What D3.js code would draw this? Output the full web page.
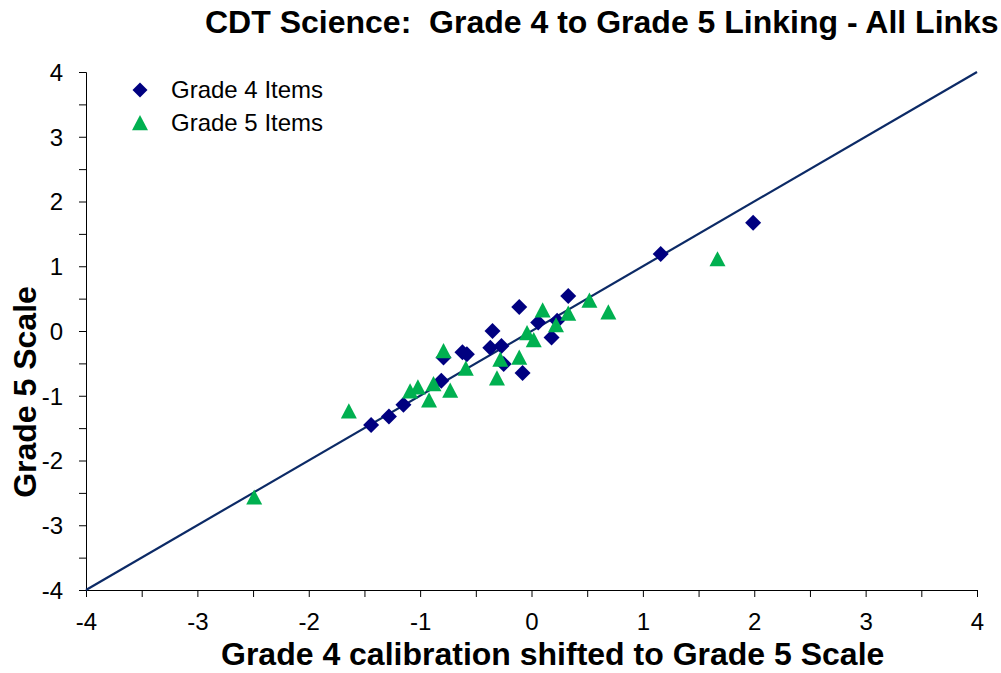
<!DOCTYPE html>
<html>
<head>
<meta charset="utf-8">
<script src="https://cdn.jsdelivr.net/npm/d3@7"></script>
<style>
    body { margin: 0; background: #fff; }
    text { font-family: Arial, "Liberation Sans", sans-serif; fill: #000; }
</style>
</head>
<body>
<svg id="chart"></svg>
<script>
// Item calibrations
const grade4X = [0.33, -0.11, 0.06, 0.23, 0.18, -0.35, -0.37, -0.27, -0.25, -0.08, -0.62, -0.58, -0.79, -0.81, -1.15, -1.28, -1.44, 1.16, 1.99];
const grade4Y = [0.54, 0.37, 0.13, 0.16, -0.10, 0.00, -0.26, -0.23, -0.51, -0.65, -0.33, -0.36, -0.41, -0.77, -1.14, -1.32, -1.45, 1.19, 1.67];
const grade5X = [0.52, 0.69, 0.10, 0.33, 0.22, -0.04, 0.02, -0.11, -0.28, -0.31, -0.59, -0.79, -0.73, -0.88, -0.92, -1.02, -1.09, -1.64, 1.67, -2.49];
const grade5Y = [0.47, 0.29, 0.32, 0.27, 0.09, -0.03, -0.14, -0.41, -0.44, -0.73, -0.58, -0.31, -0.92, -0.82, -1.07, -0.87, -0.93, -1.24, 1.11, -2.57];
const identityLine = [-4, 4];
const majorTicks = [-4, -3, -2, -1, 0, 1, 2, 3, 4];
const minorTicks = [-4, -3.5, -3, -2.5, -2, -1.5, -1, -0.5, 0, 0.5, 1, 1.5, 2, 2.5, 3, 3.5, 4];
const seriesNames = ["Grade 4 Items", "Grade 5 Items"];

const config = {
    width: 1001,
    height: 673,
    margin: { top: 72, right: 24, bottom: 83, left: 86 }
};
const innerW = config.width - config.margin.left - config.margin.right;
const innerH = config.height - config.margin.top - config.margin.bottom;

const svg = d3.select("#chart")
    .attr("width", config.width)
    .attr("height", config.height);

const chart = svg.append("g")
    .attr("transform", `translate(${config.margin.left},${config.margin.top})`);

const x = d3.scaleLinear().domain([-4, 4]).range([0, innerW]);
const y = d3.scaleLinear().domain([-4, 4]).range([innerH, 0]);

// Excel-like markers centred on their bounding box
const diamond = {
    draw(ctx, size) {
        const r = Math.sqrt(size) / 2;
        ctx.moveTo(0, -r); ctx.lineTo(r, 0); ctx.lineTo(0, r); ctx.lineTo(-r, 0); ctx.closePath();
    }
};
const triangle = {
    draw(ctx, size) {
        const r = Math.sqrt(size) / 2;
        ctx.moveTo(0, -r); ctx.lineTo(r, r * 0.9); ctx.lineTo(-r, r * 0.9); ctx.closePath();
    }
};
const diamondPath = d3.symbol().type(diamond).size(16 * 16)();
const trianglePath = d3.symbol().type(triangle).size(16 * 16)();
const colours = ["#000080", "#00b050"];

// Axes
const xAxis = chart.append("g").attr("transform", `translate(0,${innerH})`);
xAxis.call(d3.axisBottom(x).tickValues(minorTicks).tickSize(7).tickFormat(""));
xAxis.selectAll(".tick").filter(d => majorTicks.includes(d)).append("text")
    .attr("y", 40)
    .attr("text-anchor", "middle")
    .style("font-size", "24px")
    .text(d => d);

const yAxis = chart.append("g");
yAxis.call(d3.axisLeft(y).tickValues(minorTicks).tickSize(7).tickFormat(""));
yAxis.selectAll(".tick").filter(d => majorTicks.includes(d)).append("text")
    .attr("x", -23)
    .attr("dy", "0.35em")
    .attr("text-anchor", "end")
    .style("font-size", "24px")
    .text(d => d);

chart.selectAll(".domain, .tick line").attr("stroke", "#000").attr("stroke-width", 1);

// Identity line
chart.append("line")
    .attr("x1", x(identityLine[0])).attr("y1", y(identityLine[0]))
    .attr("x2", x(identityLine[1])).attr("y2", y(identityLine[1]))
    .attr("stroke", "#0c2a66")
    .attr("stroke-width", 2.2);

// Points
chart.selectAll(".g4")
    .data(grade4X.map((d, i) => [d, grade4Y[i]]))
    .join("path")
    .attr("class", "g4")
    .attr("d", diamondPath)
    .attr("transform", d => `translate(${x(d[0])},${y(d[1])})`)
    .attr("fill", colours[0]);

chart.selectAll(".g5")
    .data(grade5X.map((d, i) => [d, grade5Y[i]]))
    .join("path")
    .attr("class", "g5")
    .attr("d", trianglePath)
    .attr("transform", d => `translate(${x(d[0])},${y(d[1])})`)
    .attr("fill", colours[1]);

// Legend
const legend = svg.append("g").attr("transform", "translate(140,90)");
seriesNames.forEach((name, i) => {
    const row = legend.append("g").attr("transform", `translate(0,${i * 33})`);
    row.append("path")
        .attr("d", i === 0 ? d3.symbol().type(diamond).size(15 * 15)() : trianglePath)
        .attr("fill", colours[i]);
    row.append("text")
        .attr("x", 31)
        .attr("dy", "0.35em")
        .style("font-size", "24px")
        .text(name);
});

// Titles
svg.append("text")
    .attr("x", 205)
    .attr("y", 33)
    .style("font-size", "32px")
    .style("font-weight", "bold")
    .style("white-space", "pre")
    .attr("xml:space", "preserve")
    .text("CDT Science:  Grade 4 to Grade 5 Linking - All Links");

svg.append("text")
    .attr("x", 221)
    .attr("y", 665)
    .style("font-size", "32px")
    .style("font-weight", "bold")
    .text("Grade 4 calibration shifted to Grade 5 Scale");

svg.append("text")
    .attr("transform", "translate(36,392) rotate(-90)")
    .attr("text-anchor", "middle")
    .style("font-size", "32px")
    .style("font-weight", "bold")
    .text("Grade 5 Scale");
</script>
</body>
</html>
